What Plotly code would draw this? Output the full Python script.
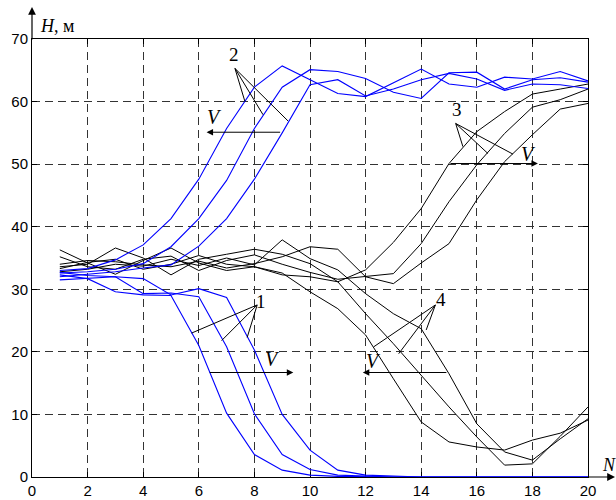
import plotly.graph_objects as go

# Step number N and height H (m) for four families of trajectories
N = list(range(1, 21))

h1a = [32.3, 31.7, 29.6, 29.1, 29.0, 21.0, 10.2, 3.6, 1.1, 0.3, 0.1, 0.0, 0.0, 0.0, 0.0, 0.0, 0.0, 0.0, 0.0, 0.0]
h1b = [32.7, 32.2, 32.0, 29.3, 29.4, 28.8, 20.8, 10.1, 3.6, 1.2, 0.3, 0.1, 0.0, 0.0, 0.0, 0.0, 0.0, 0.0, 0.0, 0.0]
h1c = [31.5, 31.8, 32.0, 31.7, 29.1, 30.1, 28.7, 20.3, 10.0, 4.3, 1.1, 0.3, 0.1, 0.0, 0.0, 0.0, 0.0, 0.0, 0.0, 0.0]

h2a = [33.0, 33.3, 34.7, 37.1, 41.3, 47.6, 55.7, 62.3, 65.7, 63.5, 61.3, 60.8, 63.0, 65.2, 62.8, 62.3, 63.9, 63.6, 64.8, 63.3]
h2b = [32.6, 32.8, 33.2, 34.1, 36.8, 41.3, 47.4, 55.7, 62.3, 65.1, 64.8, 63.7, 61.5, 60.5, 64.6, 64.7, 62.0, 63.5, 63.8, 63.1]
h2c = [32.0, 32.4, 32.8, 33.4, 33.9, 36.9, 41.3, 47.6, 55.0, 62.7, 63.5, 60.9, 62.0, 63.5, 64.5, 63.6, 61.8, 62.8, 62.7, 62.1]

h3a = [33.3, 34.3, 34.8, 33.2, 34.0, 35.4, 34.0, 33.6, 32.3, 32.0, 31.2, 33.1, 37.5, 42.9, 50.1, 55.2, 58.4, 61.2, 62.0, 62.8]
h3b = [35.2, 33.6, 33.2, 34.8, 35.3, 33.0, 34.6, 35.5, 34.0, 32.7, 31.6, 32.0, 32.5, 37.3, 44.0, 49.9, 54.9, 59.1, 60.3, 62.0]
h3c = [34.0, 34.6, 34.4, 33.9, 33.6, 34.5, 33.4, 34.1, 35.2, 36.8, 36.4, 32.0, 30.9, 34.2, 37.3, 44.3, 50.4, 54.7, 58.8, 59.7]

h4a = [36.3, 34.2, 32.4, 34.6, 36.6, 34.2, 33.0, 33.6, 32.6, 29.6, 26.9, 22.7, 15.7, 8.8, 5.6, 4.8, 4.3, 5.9, 7.0, 9.1]
h4b = [33.6, 34.0, 36.6, 35.0, 32.3, 34.8, 35.6, 36.4, 35.6, 34.1, 31.2, 26.1, 21.3, 16.3, 11.2, 6.4, 1.9, 2.1, 6.5, 11.2]
h4c = [32.8, 33.2, 34.0, 33.7, 34.8, 33.8, 35.0, 33.9, 37.9, 34.9, 33.1, 29.3, 26.1, 23.7, 16.5, 8.5, 4.0, 2.7, 6.1, 9.3]

x_ticks = list(range(0, 21, 2))
y_ticks = list(range(0, 71, 10))

# Family labels: text position, leader apex, leader end points on the curves
family_labels = {
    "1": dict(text=(8.22, 28.1), apex=(8.10, 27.5), ends=[(5.74, 23.0), (6.82, 21.8), (7.74, 22.3)]),
    "2": dict(text=(7.25, 67.6), apex=(7.30, 65.3), ends=[(7.66, 60.0), (8.31, 57.9), (9.21, 56.9)]),
    "3": dict(text=(15.29, 58.7), apex=(15.24, 56.5), ends=[(15.50, 52.8), (16.40, 51.7), (17.30, 51.6)]),
    "4": dict(text=(14.72, 28.3), apex=(14.51, 27.5), ends=[(12.29, 20.8), (13.19, 19.7), (14.18, 23.5)]),
}

# Direction of motion arrows: tail, head, and the "V" caption
v_arrows = [
    dict(tail=(8.98, 55.1), head=(6.28, 55.1), label=(6.58, 57.6)),
    dict(tail=(6.34, 16.7), head=(9.40, 16.7), label=(8.66, 18.8)),
    dict(tail=(15.00, 50.1), head=(18.20, 50.1), label=(17.87, 51.7)),
    dict(tail=(14.96, 16.7), head=(11.90, 16.7), label=(12.27, 18.5)),
]

BLUE = "#0000ff"
BLACK = "#000000"
SERIF = "Liberation Serif, Times New Roman, serif"
SANS = "Liberation Sans, Arial, sans-serif"

fig = go.Figure()

for h in (h3a, h3b, h3c, h4a, h4b, h4c):
    fig.add_trace(go.Scatter(x=N, y=h, mode="lines", line=dict(color=BLACK, width=1),
                             showlegend=False, hoverinfo="skip", cliponaxis=False))
for h in (h1a, h1b, h1c, h2a, h2b, h2c):
    fig.add_trace(go.Scatter(x=N, y=h, mode="lines", line=dict(color=BLUE, width=1.1),
                             showlegend=False, hoverinfo="skip", cliponaxis=False))

shapes = []
annotations = []

for name, spec in family_labels.items():
    ax_, ay_ = spec["apex"]
    for ex, ey in spec["ends"]:
        shapes.append(dict(type="line", xref="x", yref="y", x0=ax_, y0=ay_, x1=ex, y1=ey,
                           line=dict(color=BLACK, width=1)))
    tx, ty = spec["text"]
    annotations.append(dict(x=tx, y=ty, xref="x", yref="y", text=name, showarrow=False,
                            font=dict(family=SERIF, size=19, color=BLACK)))

for arr in v_arrows:
    annotations.append(dict(x=arr["head"][0], y=arr["head"][1], xref="x", yref="y",
                            ax=arr["tail"][0], ay=arr["tail"][1], axref="x", ayref="y",
                            text="", showarrow=True, arrowhead=2, arrowsize=1.3,
                            arrowwidth=1, arrowcolor=BLACK))
    lx, ly = arr["label"]
    annotations.append(dict(x=lx, y=ly, xref="x", yref="y", text="<i>V</i>", showarrow=False,
                            font=dict(family=SERIF, size=20, color=BLACK)))

# Axis arrows beyond the plotting area
annotations.append(dict(x=0, y=1.073, xref="paper", yref="paper", ax=0, ay=34,
                        text="", showarrow=True, arrowhead=2, arrowsize=1.3,
                        arrowwidth=1.2, arrowcolor=BLACK))
annotations.append(dict(x=1.0486, y=0, xref="paper", yref="paper", ax=-28, ay=0,
                        text="", showarrow=True, arrowhead=2, arrowsize=1.3,
                        arrowwidth=1.2, arrowcolor=BLACK))
annotations.append(dict(x=0.011, y=1.03, xref="paper", yref="paper", xanchor="left",
                        yanchor="middle", text="<i>H</i>, м", showarrow=False,
                        font=dict(family=SERIF, size=18, color=BLACK)))
annotations.append(dict(x=1.021, y=0.027, xref="paper", yref="paper", xanchor="left",
                        yanchor="middle", text="<i>N</i>", showarrow=False,
                        font=dict(family=SERIF, size=18, color=BLACK)))

axis_common = dict(
    showline=True, linecolor=BLACK, linewidth=1, mirror="ticks",
    ticks="inside", ticklen=5, tickcolor=BLACK, tickwidth=1,
    showgrid=True, gridcolor="#333333", gridwidth=1, griddash="8px,5px",
    zeroline=False, tickfont=dict(family=SANS, size=15, color=BLACK),
    layer="below traces", automargin=False,
)

fig.update_layout(
    width=616, height=500,
    margin=dict(l=32, r=28, t=39, b=23),
    paper_bgcolor="white", plot_bgcolor="white",
    xaxis=dict(range=[0, 20], tickvals=x_ticks, **axis_common),
    yaxis=dict(range=[0, 70], tickvals=y_ticks, **axis_common),
    shapes=shapes, annotations=annotations,
)

fig.write_html("out.html")
